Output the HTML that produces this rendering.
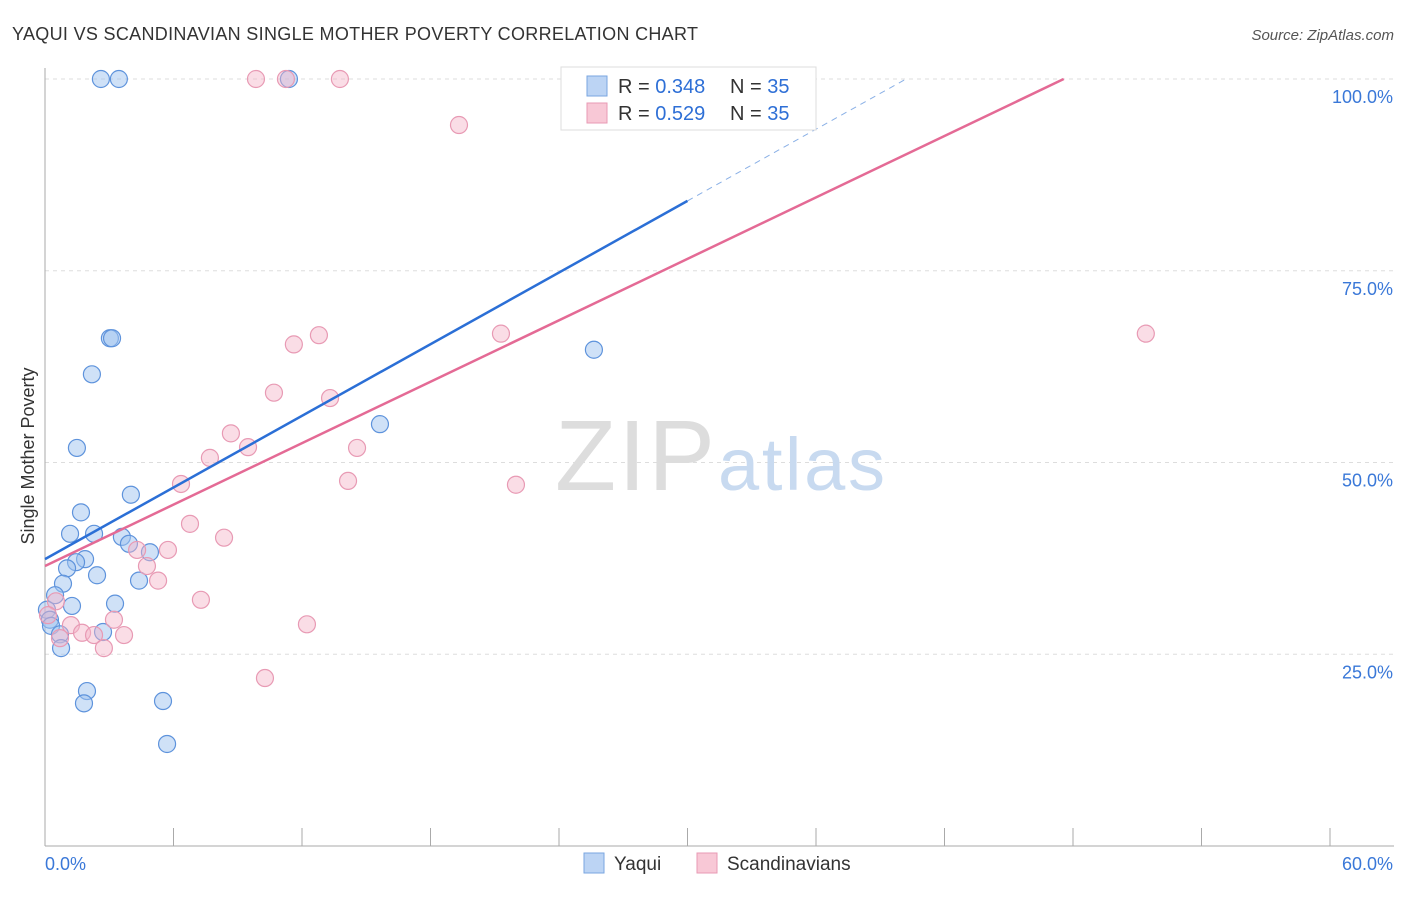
<!DOCTYPE html>
<html><head><meta charset="utf-8"><style>
body{margin:0;background:#fff;font-family:"Liberation Sans",sans-serif}
svg text{font-family:"Liberation Sans",sans-serif}
</style></head><body>
<svg id="c" width="1406" height="892">
<text x="12" y="40" font-size="18" fill="#333" textLength="686">YAQUI VS SCANDINAVIAN SINGLE MOTHER POVERTY CORRELATION CHART</text>
<text x="1394" y="40" font-size="15" fill="#555" text-anchor="end" font-style="italic">Source: ZipAtlas.com</text>
<text x="34" y="456" font-size="18" fill="#333" text-anchor="middle" transform="rotate(-90 34 456)">Single Mother Poverty</text>
<g id="grid"></g>
<text x="555" y="490" font-size="100" fill="#ddd" textLength="160" font-family="Liberation Serif">ZIP</text>
<text x="718" y="490" font-size="74" fill="#c8daf0" textLength="167">atlas</text>
<g id="marks"></g>
<g>
<rect x="561" y="67" width="255" height="63" fill="#fff" stroke="#ddd"/>
<rect x="587" y="76" width="20" height="20" fill="#bcd4f4" stroke="#7aa6e0"/>
<rect x="587" y="103" width="20" height="20" fill="#f8c8d6" stroke="#e89ab4"/>
<text x="618" y="93" font-size="20" fill="#333">R = <tspan fill="#2e6fd6">0.348</tspan></text>
<text x="730" y="93" font-size="20" fill="#333">N = <tspan fill="#2e6fd6">35</tspan></text>
<text x="618" y="120" font-size="20" fill="#333">R = <tspan fill="#2e6fd6">0.529</tspan></text>
<text x="730" y="120" font-size="20" fill="#333">N = <tspan fill="#2e6fd6">35</tspan></text>
</g>
<g>
<rect x="584" y="853" width="20" height="20" fill="#bcd4f4" stroke="#7aa6e0"/>
<text x="614" y="870" font-size="19" fill="#333">Yaqui</text>
<rect x="697" y="853" width="20" height="20" fill="#f8c8d6" stroke="#e89ab4"/>
<text x="727" y="870" font-size="19" fill="#333">Scandinavians</text>
</g>
</svg>
<script>
const yTicks=[25,50,75,100];
const yTickLabels=["25.0%","50.0%","75.0%","100.0%"];
const xLabels=["0.0%","60.0%"];
const yaquiX=[2.61,3.45,11.39,3.03,3.13,2.19,1.49,4.01,1.68,1.17,2.29,3.59,3.92,4.90,1.87,1.45,1.03,2.43,4.39,0.84,0.47,0.09,1.26,3.27,0.23,0.28,0.70,2.71,0.75,1.96,1.82,5.51,5.70,15.64,25.63];
const yaquiY=[100,100,100,66.2,66.2,61.5,51.9,45.8,43.5,40.7,40.7,40.3,39.4,38.3,37.4,37.0,36.2,35.3,34.6,34.2,32.7,30.8,31.3,31.6,29.5,28.7,27.6,27.9,25.8,20.2,18.6,18.9,13.3,55.0,64.7];
const scandX=[9.85,11.25,13.77,19.33,21.29,51.40,12.79,11.62,10.69,13.31,9.48,14.57,8.68,7.70,6.35,14.15,21.99,6.77,8.36,5.74,4.30,4.76,5.28,7.28,0.51,0.14,1.21,3.22,1.73,2.29,3.69,0.70,2.75,12.23,10.27];
const scandY=[100,100,100,94.0,66.8,66.8,66.6,65.4,59.1,58.4,52.0,51.9,53.8,50.6,47.2,47.6,47.1,42.0,40.2,38.6,38.6,36.5,34.6,32.1,31.9,30.1,28.8,29.5,27.8,27.5,27.5,27.1,25.8,28.9,21.9];
const trendIntercepts=[37.4,36.5];
const trendSlopes=[1.557,1.335];
const NS='http://www.w3.org/2000/svg';
const X=v=>45+v*1285/60, Y=v=>846-v*7.67;
function mk(t,a,p){const e=document.createElementNS(NS,t);for(const k in a)e.setAttribute(k,a[k]);p.appendChild(e);return e;}
const g=document.getElementById('grid'), m=document.getElementById('marks');
yTicks.forEach((t,i)=>{
 const l=mk('line',{x1:45,x2:1394,y1:Y(t),y2:Y(t),stroke:'#ddd','stroke-dasharray':'4,4'},g);
 
 
 const tx=mk('text',{x:1393,y:Y(t)+24,'font-size':18,fill:'#3a78d8','text-anchor':'end'},g);tx.textContent=yTickLabels[i];
 
 
});
mk('line',{x1:45,x2:45,y1:68,y2:846,stroke:'#aaa'},g);
mk('line',{x1:45,x2:1394,y1:846,y2:846,stroke:'#aaa'},g);
for(let i=0;i<=10;i++){const t=mk('line',{x1:X(i*6),x2:X(i*6),y1:828,y2:846,stroke:'#aaa'},g);
 
 }
[[0,'start',45],[1,'end',1393]].forEach(([i,a,x])=>{const t=mk('text',{x:x,y:870,'font-size':18,fill:'#3a78d8','text-anchor':a},g);t.textContent=xLabels[i];
 
 });
function dots(xs,ys,fill,stroke,name){xs.forEach((x,i)=>{const c=mk('circle',{cx:X(x),cy:Y(ys[i]),r:8.5,fill:fill,stroke:stroke,'stroke-width':1.2},m);
 
 });}
dots(yaquiX,yaquiY,'rgba(160,195,240,0.5)','#5e93dc','yaqui-point');
dots(scandX,scandY,'rgba(245,180,200,0.45)','#e89ab4','scandinavian-point');
const bEnd=(100-trendIntercepts[0])/trendSlopes[0];
const b1=mk('line',{x1:X(0),y1:Y(trendIntercepts[0]),x2:X(30),y2:Y(trendIntercepts[0]+trendSlopes[0]*30),stroke:'#2b6fd6','stroke-width':2.5},m);


const b2=mk('line',{x1:X(30),y1:Y(trendIntercepts[0]+trendSlopes[0]*30),x2:X(bEnd),y2:Y(100),stroke:'#8ab0e6','stroke-width':1,'stroke-dasharray':'6,5'},m);


const pEnd=(100-trendIntercepts[1])/trendSlopes[1];
const p1=mk('line',{x1:X(0),y1:Y(trendIntercepts[1]),x2:X(pEnd),y2:Y(100),stroke:'#e46a95','stroke-width':2.5},m);


</script>
</body></html>
